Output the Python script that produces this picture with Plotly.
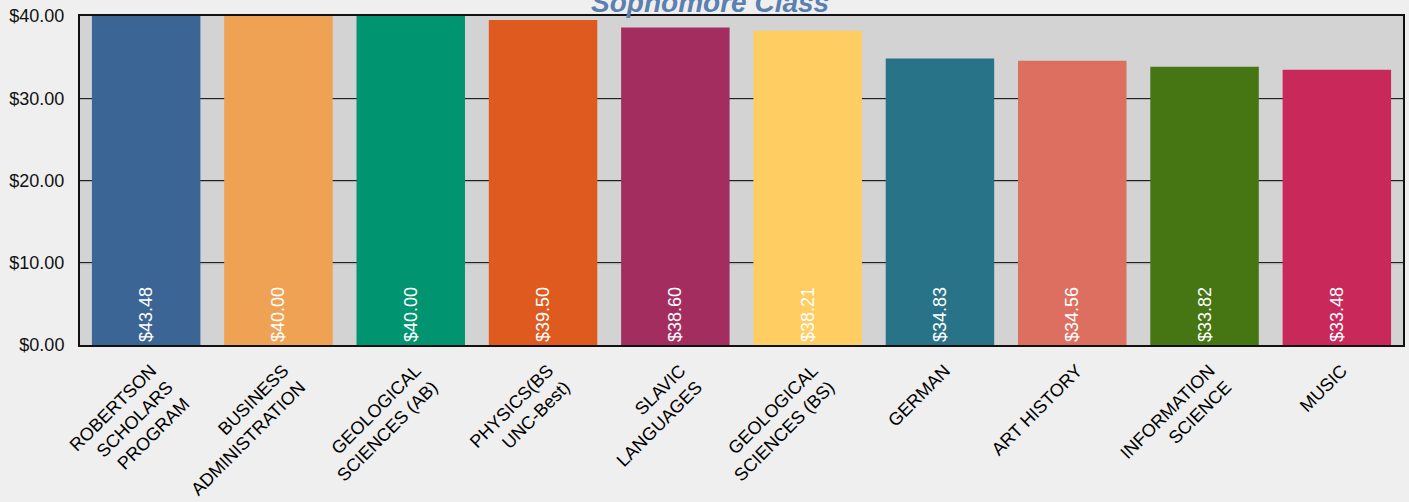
import plotly.graph_objects as go

categories = [
    "ROBERTSON<br>SCHOLARS<br>PROGRAM",
    "BUSINESS<br>ADMINISTRATION",
    "GEOLOGICAL<br>SCIENCES (AB)",
    "PHYSICS(BS<br>UNC-Best)",
    "SLAVIC<br>LANGUAGES",
    "GEOLOGICAL<br>SCIENCES (BS)",
    "GERMAN",
    "ART HISTORY",
    "INFORMATION<br>SCIENCE",
    "MUSIC",
]
values = [43.48, 40.00, 40.00, 39.50, 38.60, 38.21, 34.83, 34.56, 33.82, 33.48]
colors = ["#3a6595", "#f0a254", "#009570", "#df5a1f", "#a32d5f",
          "#ffcd62", "#287388", "#dc6f60", "#457613", "#c9295a"]
y_ticks = [0, 10, 20, 30, 40]
y_tick_labels = ["$0.00", "$10.00", "$20.00", "$30.00", "$40.00"]
title_text = "Sophomore Class"

fig = go.Figure(go.Bar(
    x=categories,
    y=values,
    marker=dict(color=colors, line=dict(width=0)),
    text=[f"${v:.2f}" for v in values],
    textposition="inside",
    insidetextanchor="start",
    textangle=-90,
    textfont=dict(color="white", size=18, family="Liberation Sans, Arial"),
    cliponaxis=True,
    hoverinfo="x+y",
))

# subtle grey shadow under each gridline (as in the reference)
for v in y_ticks[1:4]:
    fig.add_shape(
        type="line", xref="paper", x0=0, x1=1,
        yref="y", ysizemode="pixel", yanchor=v, y0=-1, y1=-1,
        line=dict(color="#a8a8a8", width=1), layer="below",
    )

fig.update_layout(
    width=1409, height=502,
    margin=dict(l=80, r=6, t=16, b=157, autoexpand=False),
    paper_bgcolor="#efefef",
    plot_bgcolor="#d3d3d3",
    bargap=0.18,
    showlegend=False,
    font=dict(family="Liberation Sans, Arial", color="black"),
    title=dict(
        text=f"<b><i>{title_text}</i></b>",
        x=0.504, xanchor="center",
        yref="container", y=0.996, yanchor="middle",
        font=dict(size=28, color="#5b7fb0", family="Liberation Sans, Arial"),
    ),
    uniformtext=dict(minsize=18, mode="show"),
)

fig.update_yaxes(
    range=[0, 40],
    tickvals=y_ticks,
    ticktext=y_tick_labels,
    tickfont=dict(size=18, color="#111"),
    ticklabelstandoff=10,
    showgrid=True, gridcolor="#222", gridwidth=1,
    showline=True, linecolor="#111", linewidth=2, mirror=True,
    zeroline=False,
    ticks="", ticklen=0,
    automargin=False,
)
fig.update_xaxes(
    tickangle=-45,
    tickfont=dict(size=18, color="black"),
    ticklabelstandoff=6,
    ticklabelshift=5,
    showline=True, linecolor="#111", linewidth=2, mirror=True,
    ticks="",
    automargin=False,
)

fig.write_html(
    "out.html",
    config={"displayModeBar": False},
    post_script="document.body.style.margin='0';document.body.style.background='#efefef';",
)
